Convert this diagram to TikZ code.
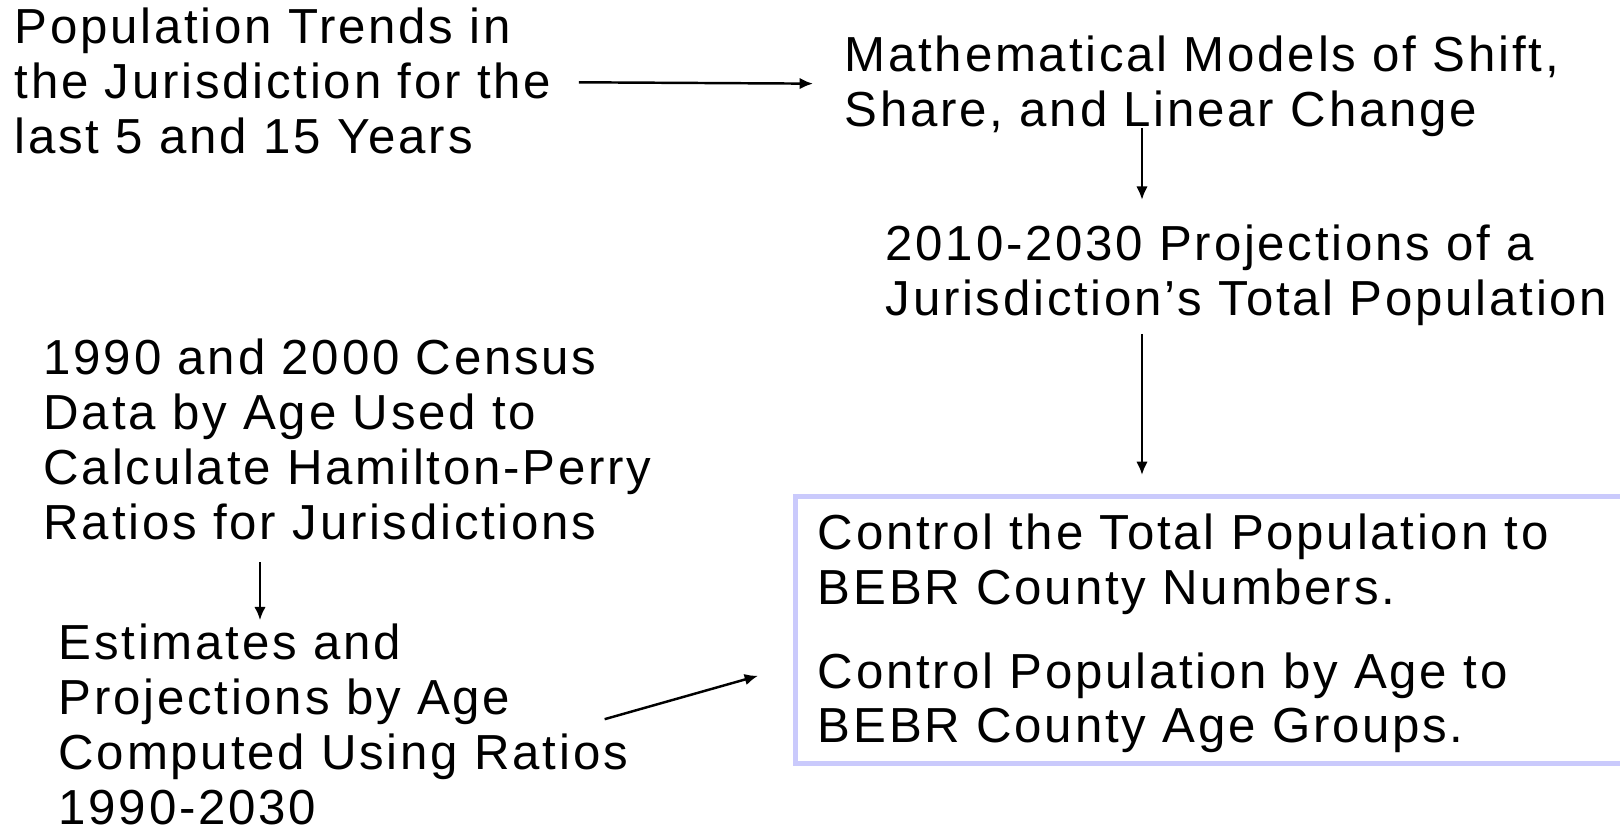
\documentclass[tikz,border=0pt]{standalone}
\usepackage{fontspec}
\setmainfont{Liberation Sans}[LetterSpace=5.6]
\usetikzlibrary{arrows.meta}
\usetikzlibrary{positioning}
\definecolor{boxblue}{HTML}{CACAFC}
\tikzset{txt/.style = {anchor=base west, align=left, inner sep=0, font=\fontsize{14}{15.6}\selectfont}}
\tikzset{arr/.style = {-{Latex[length=3.8pt, width=3.3pt]}, line width=0.7pt}}
\tikzset{ctrlbox/.style = {anchor=north west, align=left, draw=boxblue, line width=1.4pt,
                           text width=81mm, inner xsep=2.25mm, inner ysep=1mm,
                           font=\fontsize{14}{15.6}\selectfont}}

\begin{document}
\begin{tikzpicture}[x=0.1mm, y=-0.1mm]
      \useasboundingbox (0,0) rectangle (1620,830);

      % text blocks, placed at the baseline of their last line
      \node [txt] (trends) at (14, 153) {Population Trends in\\the Jurisdiction for the\\last 5 and 15 Years};
      \node [txt] (models) at (844, 126) {Mathematical Models of Shift,\\Share, and Linear Change};
      \node [txt] (proj) at (885, 315) {2010-2030 Projections of a\\Jurisdiction's Total Population};
      \node [txt] (census) at (43, 539) {1990 and 2000 Census\\Data by Age Used to\\Calculate Hamilton-Perry\\Ratios for Jurisdictions};
      \node [txt] (estim) at (58, 824) {Estimates and\\Projections by Age\\Computed Using Ratios\\1990-2030};
      \node [ctrlbox] (control) at (793, 494) {\rule{0pt}{4.3mm}Control the Total Population to\\BEBR County Numbers.\\[2.9mm]Control Population by Age to\\BEBR County Age Groups.};

      \coordinate (ax) at (1142, 0);
      \coordinate (bx) at (260, 0);

      \draw [arr, shorten <=2.7mm, shorten >=3.1mm] (trends) -- (models);
      \draw [arr, shorten <=-0.9mm, shorten >=2.4mm] (ax |- models.south) -- (ax |- proj.north);
      \draw [arr, shorten <=0.8mm, shorten >=1.9mm] (ax |- proj.south) -- (ax |- control.north);
      \draw [arr, shorten <=2.2mm, shorten >=0.3mm] (bx |- census.south) -- (bx |- estim.north);
      \draw [arr] ([xshift=-2.4mm, yshift=0.5mm]estim.east) -- ([xshift=-3.5mm, yshift=-4.6mm]control.west);
\end{tikzpicture}
\end{document}
